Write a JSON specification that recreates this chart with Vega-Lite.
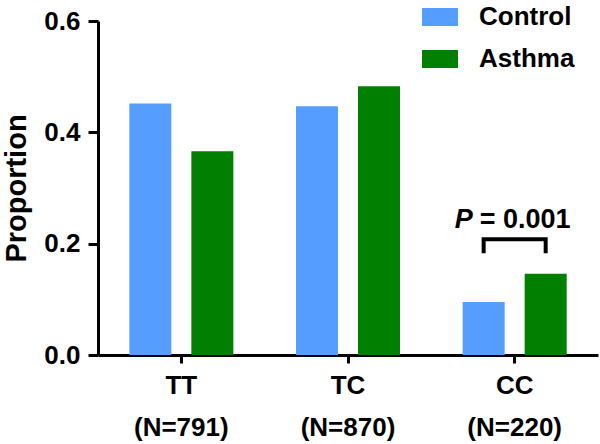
{
  "$schema": "https://vega.github.io/schema/vega-lite/v6.json",
  "width": 500,
  "height": 334,
  "autosize": "none",
  "padding": {"left": 98, "top": 21, "right": 2, "bottom": 89},
  "background": "white",
  "config": {
    "view": {"stroke": null},
    "font": "Liberation Sans",
    "axis": {
      "domainColor": "black", "domainWidth": 3, "tickColor": "black", "tickWidth": 3,
      "labelFont": "Liberation Sans", "labelFontWeight": "bold", "labelFontSize": 26, "labelColor": "black",
      "titleFont": "Liberation Sans", "titleFontWeight": "bold", "titleFontSize": 29, "titleColor": "black",
      "grid": false
    },
    "legend": {
      "labelFont": "Liberation Sans", "labelFontWeight": "bold", "labelFontSize": 26, "labelColor": "black"
    }
  },
  "data": {
    "values": [
      {"genotype": "TT (N=791)", "group": "Control", "proportion": 0.452},
      {"genotype": "TT (N=791)", "group": "Asthma", "proportion": 0.366},
      {"genotype": "TC (N=870)", "group": "Control", "proportion": 0.447},
      {"genotype": "TC (N=870)", "group": "Asthma", "proportion": 0.483},
      {"genotype": "CC (N=220)", "group": "Control", "proportion": 0.095},
      {"genotype": "CC (N=220)", "group": "Asthma", "proportion": 0.146}
    ]
  },
  "layer": [
    {
      "mark": {"type": "bar"},
      "encoding": {
        "x": {
          "field": "genotype", "type": "nominal", "sort": null,
          "scale": {"paddingInner": 0, "paddingOuter": 0},
          "axis": {
            "title": null, "labelAngle": 0, "labelExpr": "split(datum.value, ' ')",
            "labelLineHeight": 42, "labelPadding": 9, "tickSize": 8, "labelBaseline": "top"
          }
        },
        "xOffset": {
          "field": "group", "type": "nominal", "sort": ["Control", "Asthma"],
          "scale": {"paddingInner": 0.323, "paddingOuter": 0.505}
        },
        "y": {
          "field": "proportion", "type": "quantitative",
          "scale": {"domain": [0, 0.6], "nice": false},
          "axis": {"title": "Proportion", "values": [0, 0.2, 0.4, 0.6], "format": ".1f", "tickSize": 10, "labelPadding": 8, "titlePadding": 12}
        },
        "color": {
          "field": "group", "type": "nominal", "sort": ["Control", "Asthma"],
          "scale": {"domain": ["Control", "Asthma"], "range": ["#559EFF", "#007F00"]},
          "legend": {
            "title": null, "orient": "none", "legendX": 324, "legendY": -22,
            "symbolType": "M-1,-0.5H1V0.5H-1Z", "symbolSize": 1296, "symbolStrokeWidth": 0, "symbolOpacity": 1,
            "rowPadding": 11, "labelOffset": 21, "padding": 0
          }
        }
      }
    },
    {
      "data": {
        "values": [
          {"genotype": "CC (N=220)", "group": "Control", "y": 0.183, "order": 1},
          {"genotype": "CC (N=220)", "group": "Control", "y": 0.208, "order": 2},
          {"genotype": "CC (N=220)", "group": "Asthma", "y": 0.208, "order": 3},
          {"genotype": "CC (N=220)", "group": "Asthma", "y": 0.183, "order": 4}
        ]
      },
      "mark": {"type": "line", "color": "black", "strokeWidth": 4, "strokeJoin": "miter", "strokeCap": "butt"},
      "encoding": {
        "x": {"field": "genotype", "type": "nominal", "sort": null},
        "xOffset": {"field": "group", "type": "nominal", "sort": ["Control", "Asthma"]},
        "y": {"field": "y", "type": "quantitative"},
        "order": {"field": "order"}
      }
    },
    {
      "data": {"values": [{"genotype": "CC (N=220)", "y": 0.229, "italic": "P", "rest": "= 0.001"}]},
      "mark": {"type": "text", "align": "right", "baseline": "alphabetic", "dx": -42, "fontSize": 27, "fontWeight": "bold", "fontStyle": "italic", "font": "Liberation Sans", "color": "black"},
      "encoding": {
        "x": {"field": "genotype", "type": "nominal", "sort": null},
        "y": {"field": "y", "type": "quantitative"},
        "text": {"field": "italic"}
      }
    },
    {
      "data": {"values": [{"genotype": "CC (N=220)", "y": 0.229, "italic": "P", "rest": "= 0.001"}]},
      "mark": {"type": "text", "align": "left", "baseline": "alphabetic", "dx": -35, "fontSize": 27, "fontWeight": "bold", "font": "Liberation Sans", "color": "black"},
      "encoding": {
        "x": {"field": "genotype", "type": "nominal", "sort": null},
        "y": {"field": "y", "type": "quantitative"},
        "text": {"field": "rest"}
      }
    }
  ]
}
